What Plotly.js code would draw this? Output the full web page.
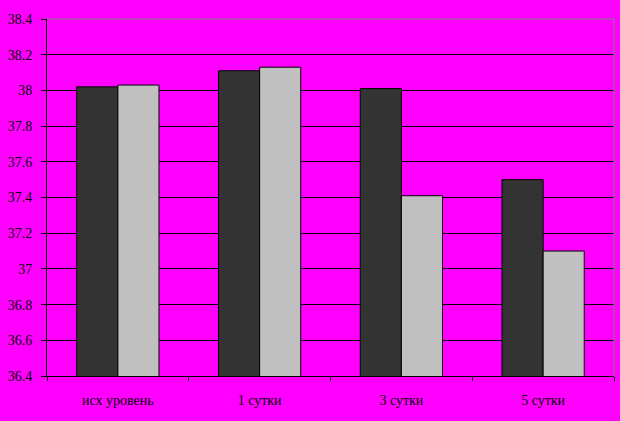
<!DOCTYPE html>
<html>
<head>
<meta charset="utf-8">
<script src="https://cdn.plot.ly/plotly-3.0.1.min.js"></script>
<style>html,body{margin:0;padding:0;background:#FF00FF;}</style>
</head>
<body>
<div id="chart" style="width:620px;height:421px;"></div>
<script>
const categories = ["исх уровень", "1 сутки", "3 сутки", "5 сутки"];
const seriesDark = [38.02, 38.11, 38.01, 37.50];
const seriesLight = [38.03, 38.13, 37.41, 37.10];
const yTicks = [36.4, 36.6, 36.8, 37, 37.2, 37.4, 37.6, 37.8, 38, 38.2, 38.4];

const font = {family: "Liberation Serif, Times New Roman, serif", size: 14, color: "#000"};

const traces = [
  {type: "bar", x: categories, y: seriesDark, marker: {color: "#333333", line: {color: "#000", width: 1}}, name: "A"},
  {type: "bar", x: categories, y: seriesLight, marker: {color: "#C0C0C0", line: {color: "#000", width: 1}}, name: "B"}
];

const layout = {
  width: 620, height: 421,
  paper_bgcolor: "#FF00FF", plot_bgcolor: "#FF00FF",
  margin: {l: 47, r: 6, t: 19, b: 45},
  showlegend: false,
  barmode: "group", bargap: 0.42, bargroupgap: 0,
  font: font,
  xaxis: {
    type: "category", tickson: "boundaries", ticks: "outside", ticklen: 4, tickcolor: "#000",
    showline: true, linecolor: "#000", linewidth: 1, showgrid: false,
    ticklabelstandoff: 11,
    tickfont: font
  },
  yaxis: {
    range: [36.4, 38.4], tickvals: yTicks, ticktext: yTicks.map(String),
    ticks: "outside", ticklen: 5, tickcolor: "#000",
    showline: true, linecolor: "#000", linewidth: 1,
    showgrid: true, gridcolor: "#000", gridwidth: 1, zeroline: false,
    ticklabelstandoff: 6,
    tickfont: font
  },
  shapes: [
    {type: "line", xref: "paper", yref: "paper", x0: 0, x1: 1, y0: 1, y1: 1, line: {color: "#808080", width: 1}},
    {type: "line", xref: "paper", yref: "paper", x0: 1, x1: 1, y0: 0, y1: 1, line: {color: "#808080", width: 1}}
  ]
};

Plotly.newPlot("chart", traces, layout, {displayModeBar: false, staticPlot: true});
</script>
</body>
</html>
